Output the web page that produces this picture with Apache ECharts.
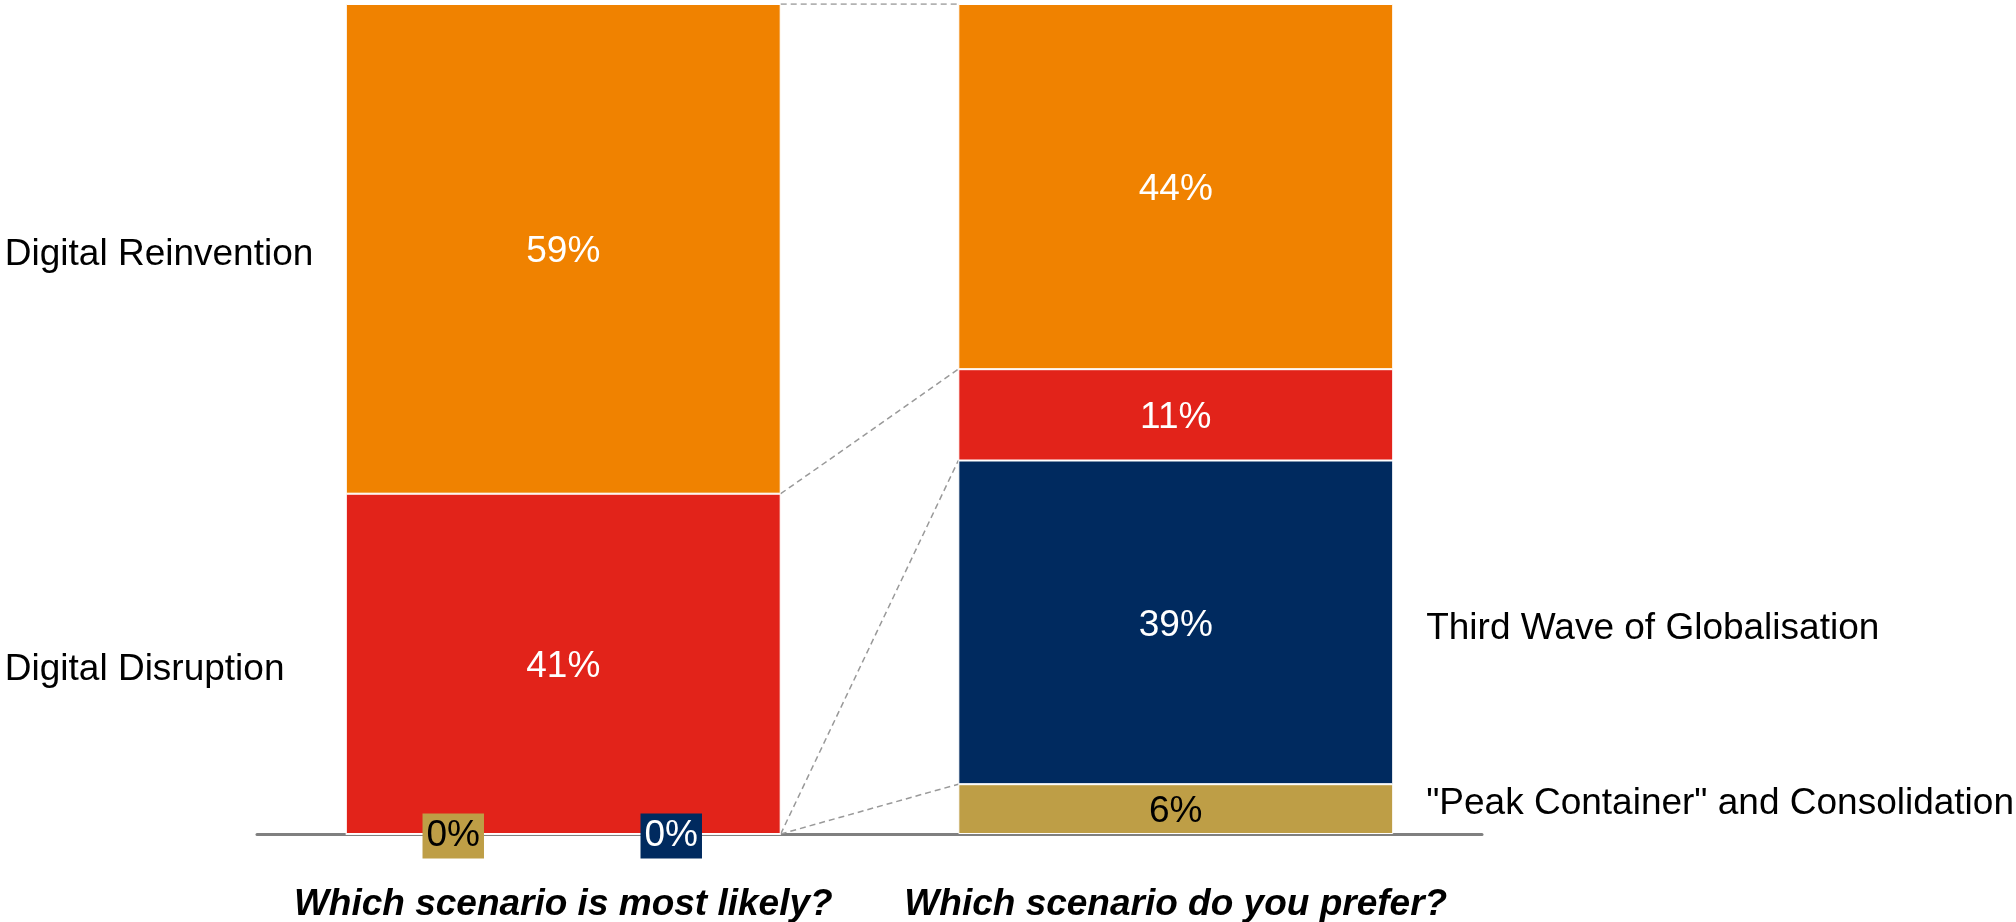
<!DOCTYPE html>
<html>
<head>
<meta charset="utf-8">
<script src="https://cdn.jsdelivr.net/npm/echarts@6/dist/echarts.min.js"></script>
<style>
  html, body { margin: 0; padding: 0; background: #fff; }
  #main { width: 2016px; height: 922px; }
</style>
</head>
<body>
<div id="main"></div>
<script>
// questions (x categories)
var categories = ['Which scenario is most likely?', 'Which scenario do you prefer?'];
// scenarios, stacked bottom to top
var scenarios = ['"Peak Container" and Consolidation', 'Third Wave of Globalisation', 'Digital Disruption', 'Digital Reinvention'];
var mostLikely = [0, 0, 41, 59];
var prefer = [6, 39, 11, 44];
// which bar the scenario name sits next to
var nameSide = ['right', 'right', 'left', 'left'];

var colors = ['#BE9E46', '#002A5F', '#E2231A', '#F08200'];
var labelColors = ['#000', '#fff', '#fff', '#fff'];
var zeroOffset = [-110, 108, 0, 0];
var font = 'Liberation Sans, Arial, sans-serif';
var fontSize = 37;
var barHalf = 0.355; // half bar width, in category bands

var myChart = echarts.init(document.getElementById('main'));

var series = [];

// stacked bars
scenarios.forEach(function (name, i) {
    var vals = [mostLikely[i], prefer[i]];
    series.push({
        name: name,
        type: 'bar',
        stack: 'total',
        barWidth: (barHalf * 200) + '%',
        itemStyle: {color: colors[i], borderColor: '#fff', borderWidth: 1},
        label: {
            show: true,
            position: 'inside',
            formatter: '{c}%',
            color: labelColors[i],
            fontFamily: font,
            fontSize: fontSize,
            offset: [0, 3]
        },
        data: vals.map(function (v) {
            if (v !== 0) return v;
            return {
                value: v,
                label: {
                    offset: [zeroOffset[i], 2],
                    backgroundColor: colors[i],
                    padding: [4, 4, 3, 4],
                    lineHeight: 38
                }
            };
        }),
        z: 3
    });
});

// dashed connectors between cumulative tops
var cumL = 0, cumR = 0;
scenarios.forEach(function (name, i) {
    cumL += mostLikely[i];
    cumR += prefer[i];
    series.push({
        type: 'line',
        xAxisIndex: 1,
        symbol: 'none',
        silent: true,
        lineStyle: {color: '#999', width: 1.5, type: [6, 4]},
        data: [[0.5 + barHalf, cumL], [1.5 - barHalf, cumR]],
        z: 2
    });
});

// scenario names beside the bars
var nameData = [];
var baseL = 0, baseR = 0;
scenarios.forEach(function (name, i) {
    var left = nameSide[i] === 'left';
    var mid = left ? baseL + mostLikely[i] / 2 : baseR + prefer[i] / 2;
    nameData.push({
        value: [left ? 0.5 - barHalf : 1.5 + barHalf, mid],
        name: name,
        label: {
            offset: [left ? -341 : 33, i === 0 ? -5 : 6],
            color: '#000'
        }
    });
    baseL += mostLikely[i];
    baseR += prefer[i];
});
series.push({
    type: 'scatter',
    xAxisIndex: 1,
    symbolSize: 1,
    clip: false,
    silent: true,
    itemStyle: {color: 'transparent', opacity: 1},
    label: {
        show: true,
        position: 'inside',
        align: 'left',
        formatter: '{b}',
        color: '#000',
        textBorderWidth: 0,
        fontFamily: font,
        fontSize: fontSize
    },
    data: nameData,
    z: 4
});

var option = {
    animation: false,
    backgroundColor: '#fff',
    grid: {left: 257, right: 534, top: 4, bottom: 88, outerBoundsMode: 'none', containLabel: false},
    xAxis: [{
        type: 'category',
        data: categories,
        axisTick: {show: false},
        axisLine: {lineStyle: {color: '#808080', width: 3}},
        axisLabel: {
            interval: 0,
            color: '#000',
            fontFamily: font,
            fontSize: fontSize,
            fontWeight: 'bold',
            fontStyle: 'italic',
            margin: 52
        }
    }, {
        type: 'value',
        min: 0,
        max: 2,
        show: false
    }],
    yAxis: {type: 'value', min: 0, max: 100, show: false},
    series: series
};
myChart.setOption(option);
</script>
</body>
</html>
